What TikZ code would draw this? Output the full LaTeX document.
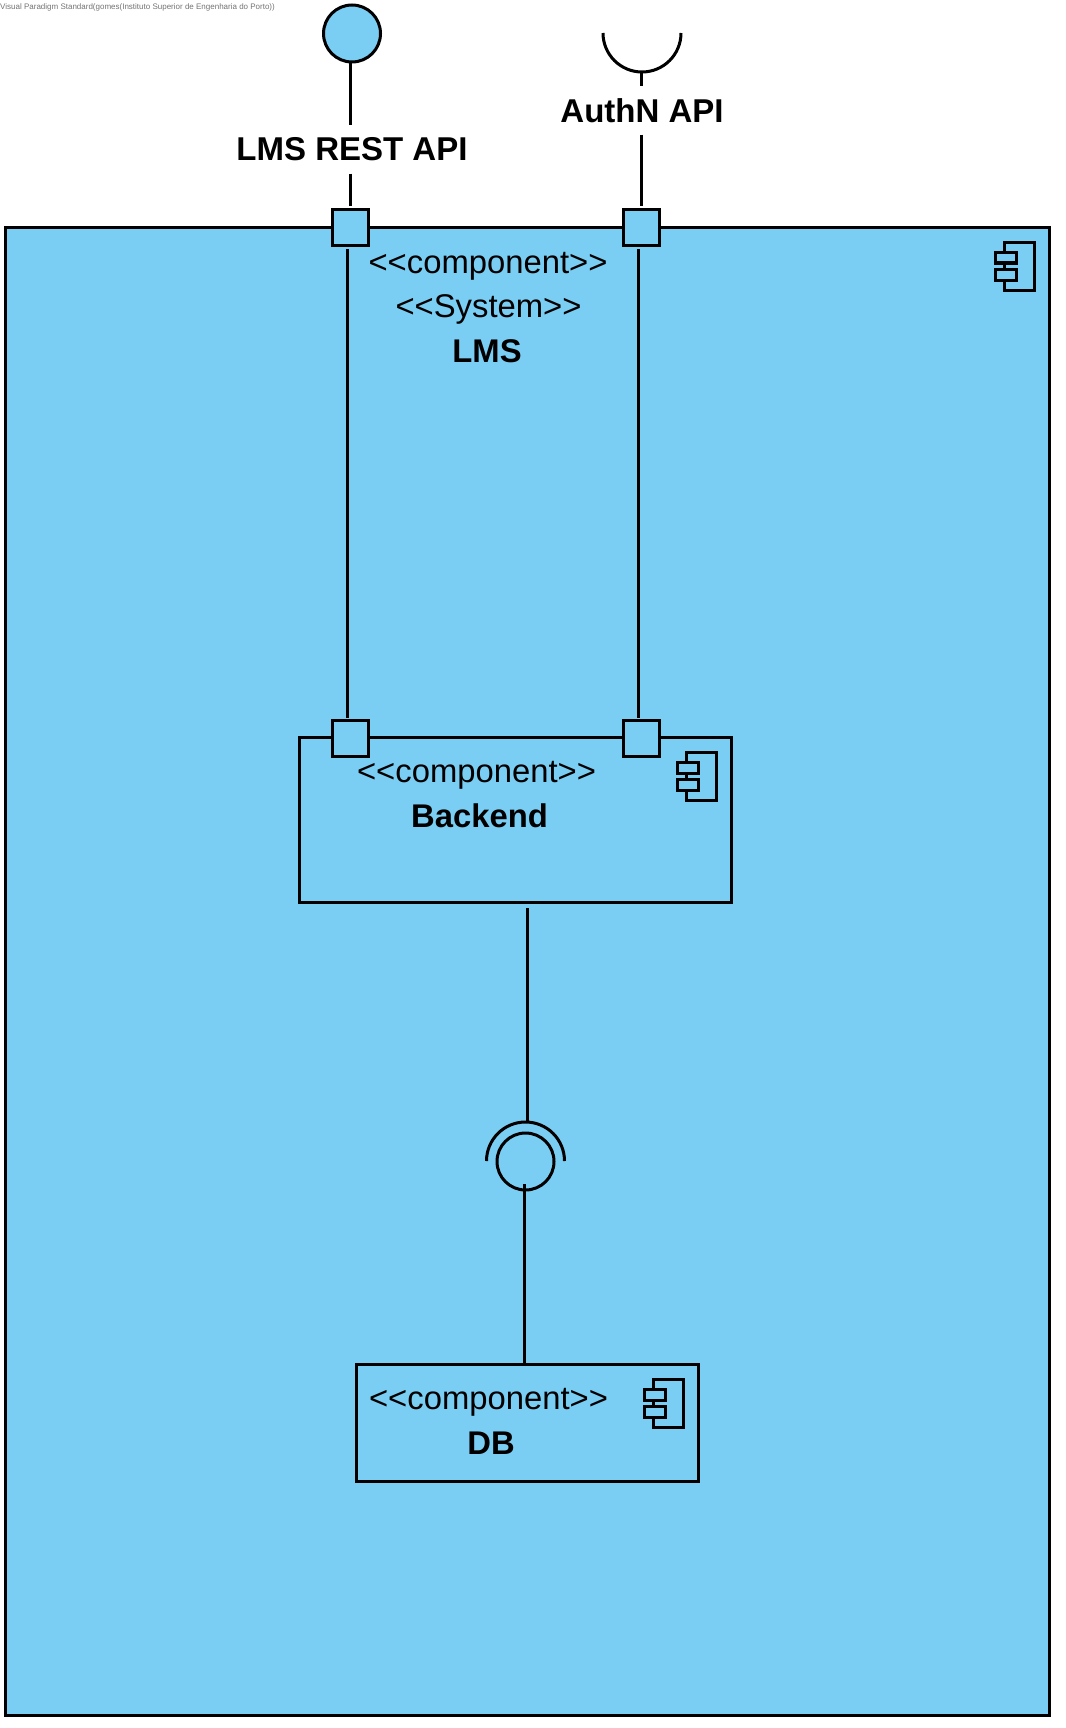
\documentclass[tikz,border=0pt]{standalone}
\usepackage{fontspec}
\setmainfont[Ligatures=TeXOff]{Liberation Sans}
\usepackage{xcolor}
\definecolor{boxblue}{RGB}{122,206,244}
\tikzset{
    compbox/.style={draw, line width=3pt, fill=boxblue, inner sep=0pt},
    portbox/.style={compbox, minimum size=36pt},
    ballnode/.style={compbox, circle},
    stereo/.style={anchor=base, inner sep=0pt, font=\fontsize{32.8}{38}\selectfont},
    title/.style={stereo, font=\fontsize{32.8}{38}\selectfont\bfseries},
    apilabel/.style={inner sep=0pt, minimum height=48pt, font=\fontsize{33}{38}\selectfont\bfseries},
    wire/.style={line width=3pt},
    compicon/.pic={
        \draw[line width=3pt] (-30,-1) rectangle (0,47);
        \draw[line width=3pt, fill=boxblue] (-39,9) rectangle (-18,19.5);
        \draw[line width=3pt, fill=boxblue] (-39,26) rectangle (-18,37);
    }
}

\begin{document}
\begin{tikzpicture}[x=1pt, y=-1pt]
    \useasboundingbox (0,0) rectangle (1065,1728);
    \node[anchor=west, inner sep=0pt, text=black!55, font=\fontsize{8}{9}\selectfont] (credit) at (0,7.5) {Visual Paradigm Standard(gomes(Instituto Superior de Engenharia do Porto))};
    %composant LMS
    \node[compbox, minimum width=1044.5pt, minimum height=1488pt] (lms) at (527.25,971.5) {};
    \pic at (1034.5,243.5) {compicon};
    \node[stereo] (lmsstereo) at (488,273) {<<component>>};
    \node[stereo] (lmssystem) at (488.5,317) {<<System>>};
    \node[title] (lmstitle) at (487,362) {LMS};
    %composant Backend
    \node[compbox, minimum width=432.5pt, minimum height=165pt] (backend) at (515.25,819.5) {};
    \pic at (716,753.5) {compicon};
    \node[stereo] (backendstereo) at (476.5,782) {<<component>>};
    \node[title] (backendtitle) at (479.5,827) {Backend};
    %composant DB
    \node[compbox, minimum width=342pt, minimum height=117.5pt] (db) at (527,1422.75) {};
    \pic at (683.5,1380.5) {compicon};
    \node[stereo] (dbstereo) at (488.5,1409) {<<component>>};
    \node[title] (dbtitle) at (491,1454) {DB};
    %ports
    \node[portbox] (restport) at (350.25,228) {};
    \node[portbox] (authport) at (641,228) {};
    \node[portbox] (backrest) at (350.25,738) {};
    \node[portbox] (backauth) at (641,738) {};
    %interface fournie
    \node[ballnode, minimum size=57pt] (restball) at (352,33.5) {};
    \node[apilabel] (restlabel) at (352,149.5) {LMS REST API};
    \draw[wire] (restball.south -| restport) -- (restlabel.north -| restport);
    \draw[wire] (restlabel.south -| restport) -- ([yshift=2pt]restport.north);
    %interface requise
    \coordinate (authsocket) at (641,72);
    \node[apilabel] (authlabel) at (642,110.5) {AuthN API};
    \draw[wire] (681,33) arc[start angle=0, end angle=-180, radius=39pt];
    \draw[wire] (authsocket) -- (authlabel.north -| authport);
    \draw[wire] (authlabel.south -| authport) -- ([yshift=2pt]authport.north);
    %liaisons internes
    \draw[wire] ([xshift=-3pt, yshift=-2pt]restport.south) -- ([xshift=-3pt, yshift=1pt]backrest.north);
    \draw[wire] ([xshift=-3pt, yshift=-2pt]authport.south) -- ([xshift=-3pt, yshift=1pt]backauth.north);
    %assemblage vers DB
    \coordinate (backout) at (527,908);
    \coordinate (sockettop) at (527,1121);
    \coordinate (ballin) at (524.3,1184);
    \node[ballnode, fill=none, minimum size=57pt] (dbball) at (525.5,1161.5) {};
    \draw[wire] (564.5,1161) arc[start angle=0, end angle=180, radius=39pt];
    \draw[wire] (backout) -- (sockettop);
    \draw[wire] (ballin) -- (ballin |- db.north);
\end{tikzpicture}
\end{document}
